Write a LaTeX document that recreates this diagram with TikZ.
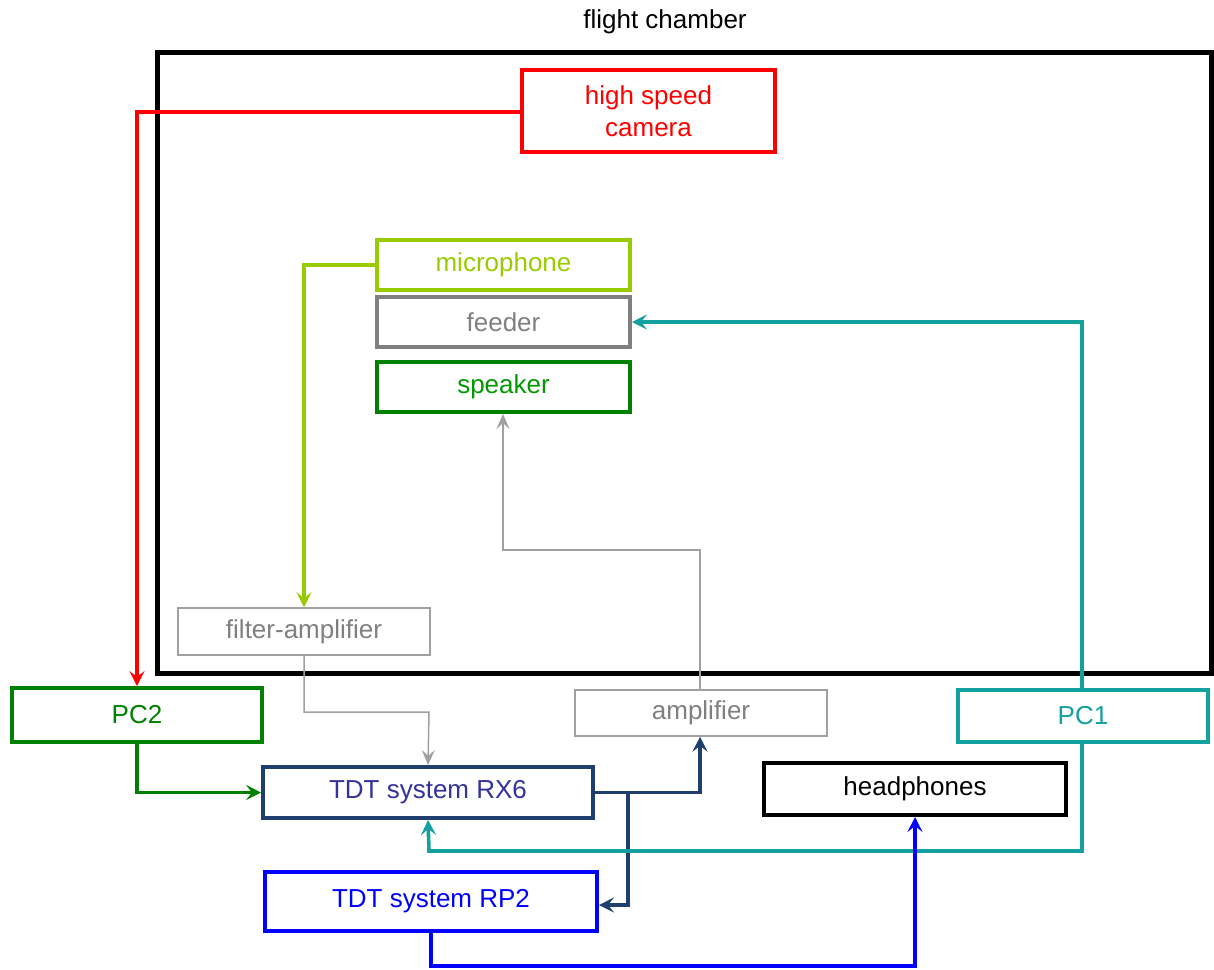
\documentclass[tikz,border=0pt]{standalone}
\usepackage{fontspec}
\setmainfont{Liberation Sans}
\usetikzlibrary{arrows.meta}
\definecolor{cred}{HTML}{FF0000}
\definecolor{cmic}{HTML}{99CC00}
\definecolor{cfeed}{HTML}{808080}
\definecolor{cgreen}{HTML}{008000}
\definecolor{cspk}{HTML}{009900}
\definecolor{cteal}{HTML}{14A0A0}
\definecolor{cnavy}{HTML}{1F3F6F}
\definecolor{crxtext}{HTML}{333399}
\definecolor{cblue}{HTML}{0000FF}
\definecolor{cthin}{HTML}{A0A0A0}
\begin{document}
\begin{tikzpicture}[x=1pt,y=-1pt,
  every node/.style={font=\fontsize{26}{30}\selectfont},
  boxn/.style={draw,line width=4pt,inner sep=0pt,align=center},
  thinbox/.style={draw=cthin,line width=1.5pt,inner sep=0pt,text=cfeed},
  conn/.style={line width=3.6pt,-{Stealth[length=15pt,width=15pt,inset=6pt]}},
  thinconn/.style={draw=cthin,line width=1.5pt,-{Stealth[length=15pt,width=13pt,inset=6pt]}}]
\useasboundingbox (0,0) rectangle (1214,969);
\fill[white] (0,0) rectangle (1214,969);
% flight chamber
\node (title) at (665,22) {flight chamber};
\draw[line width=5pt] (157,52) rectangle (1211,673);
% nodes
\node[boxn,draw=cred,text=cred,minimum width=253pt,minimum height=82pt] (cam) at (648.5,111) {high speed\\[2pt]camera};
\node[boxn,draw=cmic,text=cmic,minimum width=253pt,minimum height=50pt] (mic) at (503.5,265) {microphone};
\node[boxn,draw=cfeed,text=cfeed,minimum width=253pt,minimum height=50pt] (feed) at (503.5,322) {feeder};
\node[boxn,draw=cgreen,text=cspk,minimum width=253pt,minimum height=50pt] (spk) at (503.5,387) {speaker};
\node[thinbox,minimum width=252pt,minimum height=47pt] (famp) at (304,631.5) {filter-amplifier};
\node[boxn,draw=cgreen,text=cgreen,minimum width=250pt,minimum height=54pt] (pc2) at (137,715) {PC2};
\node[thinbox,minimum width=252pt,minimum height=46pt] (amp) at (701,713) {amplifier};
\node[boxn,draw=cteal,text=cteal,minimum width=250pt,minimum height=52pt] (pc1) at (1083,716) {PC1};
\node[boxn,draw=cnavy,text=crxtext,minimum width=330pt,minimum height=51pt] (rx6) at (428,792.5) {TDT system RX6};
\node[boxn,draw=black,text=black,minimum width=302pt,minimum height=52pt] (hp) at (915,789) {headphones};
\node[boxn,draw=cblue,text=cblue,minimum width=332pt,minimum height=59pt] (rp2) at (431,901.5) {TDT system RP2};
% connectors
\draw[conn,cred] (cam.west |- 0,112) -| (pc2.north);
\draw[conn,cmic] (mic.west) -| (famp.north);
\draw[thinconn] (famp.south) |- (429,712) -- (rx6.north);
\draw[conn,cgreen] (pc2.south) |- (rx6.west);
\draw[thinconn] (amp.north -| 700,0) |- (503,550) -- (spk.south -| 503,0);
\coordinate (br) at (628,793);
\draw[conn,cnavy] (rx6.east) -| (amp.south -| 700,0);
\draw[conn,cnavy] (br) |- (rp2.east |- 0,905);
\draw[conn,cteal] (pc1.north -| 1082,0) |- (feed.east);
\draw[conn,cteal] (pc1.south -| 1082,0) |- (429,851) -- (rx6.south);
\draw[conn,cblue] (rp2.south) |- (915,966) -- (hp.south);
\end{tikzpicture}
\end{document}
